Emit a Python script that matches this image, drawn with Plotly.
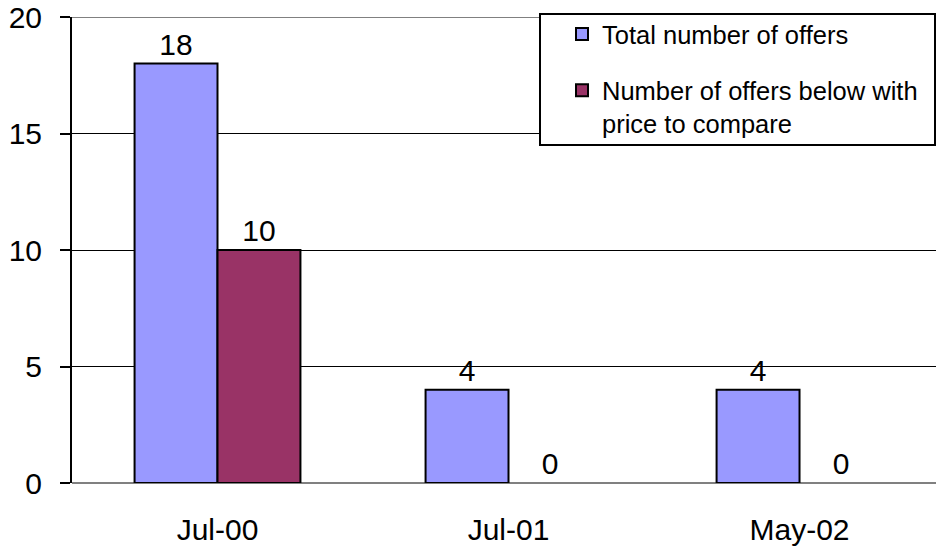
import plotly.graph_objects as go

categories = ["Jul-00", "Jul-01", "May-02"]
total_offers = [18, 4, 4]
below_ptc = [10, 0, 0]
y_ticks = [0, 5, 10, 15, 20]

FONT = "Liberation Sans, Arial, sans-serif"
LBL = 30

def border_widths(vals):
    return [2 if v > 0 else 0 for v in vals]

fig = go.Figure()
fig.add_trace(go.Bar(
    x=categories, y=total_offers, name="Total number of offers",
    marker=dict(color="#9999FF", line=dict(color="black", width=border_widths(total_offers))),
    text=total_offers, textposition="outside", cliponaxis=False,
    textfont=dict(size=LBL, color="black", family=FONT),
    legendgroup="a",
))
fig.add_trace(go.Bar(
    x=categories, y=below_ptc, name="Number of offers below with<br>price to compare",
    marker=dict(color="#993366", line=dict(color="black", width=border_widths(below_ptc))),
    text=below_ptc, textposition="outside", cliponaxis=False,
    textfont=dict(size=LBL, color="black", family=FONT),
    legendgroup="b",
))

L, T, B = 72, 17, 67
W, H = 936, 550
pw, ph = W - L, H - T - B

def px_x(v):
    return (v - L) / pw

def px_y(v):
    return (H - B - v) / ph

fig.update_layout(
    width=W, height=H,
    margin=dict(l=L, r=0, t=T, b=B, pad=0),
    paper_bgcolor="white", plot_bgcolor="white",
    font=dict(family=FONT, size=LBL, color="black"),
    barmode="group", bargap=0.43, bargroupgap=0,
    showlegend=True,
    legend=dict(
        x=px_x(562), y=px_y(11), xanchor="left", yanchor="top",
        bgcolor="rgba(0,0,0,0)", borderwidth=0,
        font=dict(size=25.5, family=FONT, color="black"),
        traceorder="grouped", tracegroupgap=20, valign="top",
    ),
    xaxis=dict(
        range=[-0.5, 2.469], showgrid=False, showline=False, ticks="",
        tickfont=dict(size=LBL), ticklabelstandoff=26, zeroline=False,
    ),
    yaxis=dict(
        range=[0, 20], tickvals=y_ticks, showgrid=True, gridcolor="black", gridwidth=1,
        showline=True, linecolor="black", linewidth=2,
        ticks="outside", ticklen=10, tickwidth=2, tickcolor="black",
        tickfont=dict(size=LBL), ticklabelstandoff=12,
        zeroline=True, zerolinecolor="#808080", zerolinewidth=2,
    ),
    shapes=[
        dict(type="line", xref="paper", yref="y", x0=0, x1=1, y0=20, y1=20,
             line=dict(color="#808080", width=2), layer="above"),
        dict(type="rect", xref="paper", yref="paper",
             x0=px_x(540), x1=px_x(935), y0=px_y(145), y1=px_y(14),
             fillcolor="white", line=dict(color="black", width=2), layer="above"),
    ],
)

fig.write_html("out.html")
